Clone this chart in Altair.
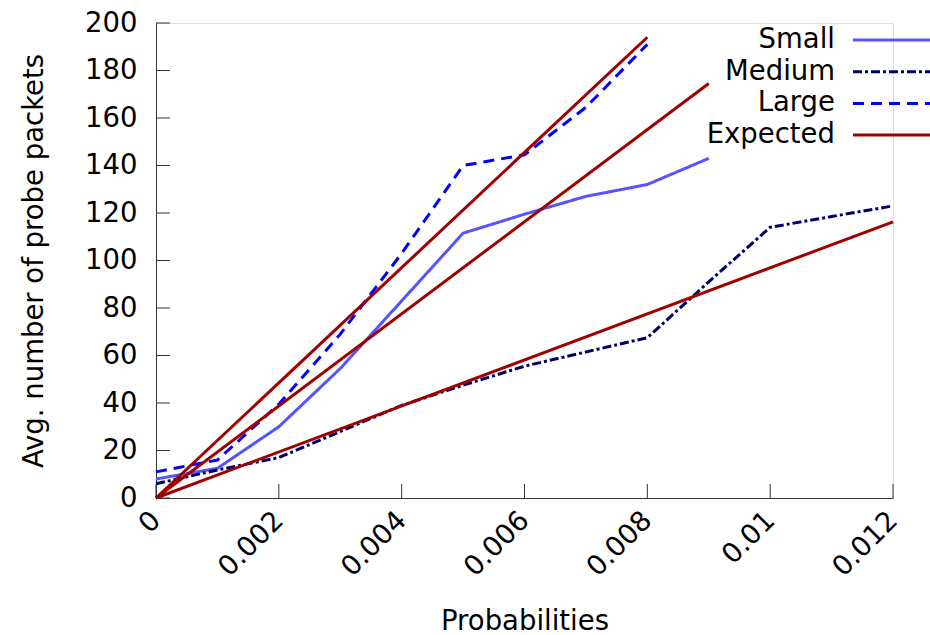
import altair as alt
import pandas as pd

# ---- data ----
small_p = [0, 0.001, 0.002, 0.003, 0.004, 0.005, 0.006, 0.007, 0.008, 0.009]
small_v = [8, 12.5, 30, 54.5, 83, 111.5, 119.5, 127, 132, 143]

medium_p = [0, 0.001, 0.002, 0.003, 0.004, 0.005, 0.006, 0.007, 0.008, 0.009, 0.010, 0.011, 0.012]
medium_v = [6, 11.8, 17, 28, 39, 47.5, 55.5, 61.5, 67.5, 91, 114, 118.5, 123]

large_p = [0, 0.001, 0.002, 0.003, 0.004, 0.005, 0.006, 0.007, 0.008]
large_v = [11, 16, 39.5, 69, 103, 140, 144.5, 164.5, 191]

expected_id = ["e1", "e1", "e2", "e2", "e3", "e3"]
expected_p = [0, 0.008, 0, 0.009, 0, 0.012]
expected_v = [0, 194, 0, 174.5, 0, 116.3]

x_ticks = [0, 0.002, 0.004, 0.006, 0.008, 0.010, 0.012]
y_ticks = [0, 20, 40, 60, 80, 100, 120, 140, 160, 180, 200]

legend_names = ["Small", "Medium", "Large", "Expected"]

# ---- styles ----
FONT = "DejaVu Sans"
FS = 27.5
W, H = 737, 475
TICK = 14
colors = {"Small": "#5555ff", "Medium": "#00006b", "Large": "#0000ff", "Expected": "#a00000"}
dashes = {"Small": [1, 0], "Medium": [9, 3, 3, 3], "Large": [11, 7], "Expected": [1, 0]}
SW = 3

xscale = alt.Scale(domain=[0, 0.012], nice=False, zero=False)
yscale = alt.Scale(domain=[0, 200], nice=False)

small_df = pd.DataFrame({"p": small_p, "v": small_v})
medium_df = pd.DataFrame({"p": medium_p, "v": medium_v})
large_df = pd.DataFrame({"p": large_p, "v": large_v})
exp_df = pd.DataFrame({"id": expected_id, "p": expected_p, "v": expected_v})

x_axis = alt.Axis(
    values=x_ticks, labelAngle=-45, labelAlign="right", labelBaseline="middle",
    labelPadding=18, ticks=False, tickSize=0, grid=False, labelFontSize=FS,
    labelFont=FONT, labelColor="black", title="Probabilities", titleFont=FONT,
    titleFontSize=FS, titleFontWeight="normal", titleColor="black",
    titleY=131, titleBaseline="alphabetic", domainColor="#333333", domainWidth=1,
    labelOverlap=False, labelExpr="datum.value == 0 ? '0' : format(datum.value, '~g')",
)
y_axis = alt.Axis(
    values=y_ticks, ticks=False, tickSize=0, grid=False, labelPadding=19,
    labelFontSize=FS, labelFont=FONT, labelColor="black",
    title="Avg. number of probe packets", titleFont=FONT, titleFontSize=FS,
    titleFontWeight="normal", titleColor="black", titleX=-108,
    titleBaseline="bottom", domainColor="#333333", domainWidth=1,
    labelOverlap=False,
)

base_small = alt.Chart(small_df).mark_line(
    color=colors["Small"], strokeWidth=SW, strokeDash=dashes["Small"]
).encode(
    x=alt.X("p:Q", scale=xscale, axis=x_axis),
    y=alt.Y("v:Q", scale=yscale, axis=y_axis),
)

medium = alt.Chart(medium_df).mark_line(
    color=colors["Medium"], strokeWidth=SW, strokeDash=dashes["Medium"]
).encode(x=alt.X("p:Q", scale=xscale), y=alt.Y("v:Q", scale=yscale))

large = alt.Chart(large_df).mark_line(
    color=colors["Large"], strokeWidth=SW, strokeDash=dashes["Large"]
).encode(x=alt.X("p:Q", scale=xscale), y=alt.Y("v:Q", scale=yscale))

expected = alt.Chart(exp_df).mark_line(
    color=colors["Expected"], strokeWidth=SW
).encode(x=alt.X("p:Q", scale=xscale), y=alt.Y("v:Q", scale=yscale), detail="id:N")

# inward ticks
xt_df = pd.DataFrame({"p": x_ticks})
yt_df = pd.DataFrame({"v": y_ticks})
x_tick_marks = alt.Chart(xt_df).mark_rule(color="#333333", strokeWidth=1).encode(
    x=alt.X("p:Q", scale=xscale), y=alt.value(H), y2=alt.value(H - TICK)
)
y_tick_marks = alt.Chart(yt_df).mark_rule(color="#333333", strokeWidth=1).encode(
    y=alt.Y("v:Q", scale=yscale), x=alt.value(0), x2=alt.value(TICK)
)

# legend (gnuplot style: label right-aligned, sample to its right)
LEG_TEXT_X = 679
LEG_LINE_X1, LEG_LINE_X2 = 697, 774
LEG_Y0, LEG_DY = 17, 31.7
legend_layers = []
for i, name in enumerate(legend_names):
    ly = LEG_Y0 + i * LEG_DY
    ldf = pd.DataFrame({"name": [name]})
    legend_layers.append(
        alt.Chart(ldf).mark_text(
            align="right", baseline="middle", font=FONT, fontSize=FS, color="black"
        ).encode(text="name:N", x=alt.value(LEG_TEXT_X), y=alt.value(ly))
    )
    legend_layers.append(
        alt.Chart(ldf).mark_rule(
            color=colors[name], strokeWidth=SW, strokeDash=dashes[name]
        ).encode(x=alt.value(LEG_LINE_X1), x2=alt.value(LEG_LINE_X2), y=alt.value(ly))
    )

chart = alt.layer(
    base_small, medium, large, expected, x_tick_marks, y_tick_marks, *legend_layers
).properties(
    width=W, height=H,
    autosize=alt.AutoSizeParams(type="none"),
    padding={"left": 156, "top": 23, "right": 37, "bottom": 137},
).configure_view(stroke=None).configure(background="white")

chart.save("out.html", embed_options={"renderer": "svg", "actions": False})
